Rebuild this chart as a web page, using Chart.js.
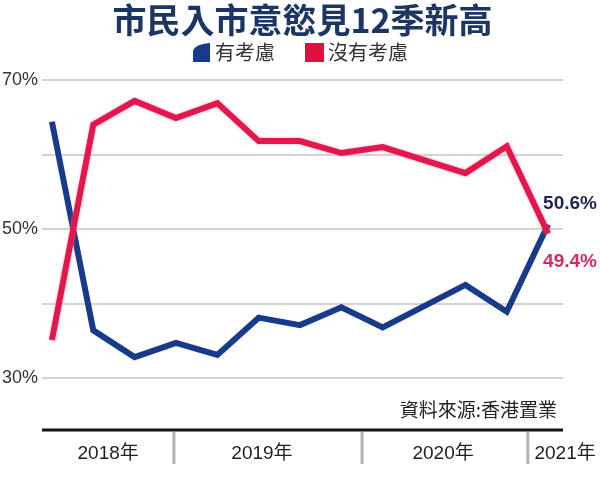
<!DOCTYPE html>
<html>
<head>
<meta charset="utf-8">
<script src="https://cdn.jsdelivr.net/npm/chart.js@4.4.1/dist/chart.umd.min.js"></script>
<style>
    html, body { margin: 0; padding: 0; background: #fff; }
    #wrap { width: 600px; height: 477px; }
</style>
</head>
<body>
<div id="wrap"><canvas id="chart"></canvas></div>
<script>
// 調查季度（其中一季沒有數據，線直接連過去）
const quarters = ['2018Q1', '2018Q2', '2018Q3', '2018Q4', '2019Q1', '2019Q2', '2019Q3',
                  '2019Q4', '2020Q1', '2020Q2', '2020Q3', '2020Q4', '2021Q1'];
const seriesNames = ['有考慮', '沒有考慮'];
const considering    = [64.4, 36.4, 32.8, 34.7, 33.1, 38.1, 37.1, 39.5, 36.8, null, 42.5, 38.9, 50.6];
const notConsidering = [35.1, 64.0, 67.2, 64.9, 66.9, 61.8, 61.8, 60.2, 61.0, null, 57.5, 61.1, 49.4];
const yTickLabels = [30, 50, 70];

// 年份帶（以季度序號表示）
const yearLabels = ['2018年', '2019年', '2020年', '2021年'];
const yearLabelAt = [1.36, 5.08, 9.46, 12.41];
const yearBreaks = [2.95, 7.5, 11.51];

const BLUE = '#173a8a';
const RED = '#e2184c';
const SANS = '"Liberation Sans", "Noto Sans CJK TC", sans-serif';
const CJK = '"Noto Sans CJK TC", "Noto Sans CJK SC", sans-serif';

// 圖例小圖示
function makeIcon(color, w, h, cut) {
    const c = document.createElement('canvas');
    c.width = w; c.height = h;
    const g = c.getContext('2d');
    g.fillStyle = color;
    g.beginPath();
    if (cut) {
        g.moveTo(0, h);
        g.lineTo(0, 8);
        g.quadraticCurveTo(3, 1, w, 0);
        g.lineTo(w, h);
    } else {
        g.rect(0, 0, w, h);
    }
    g.closePath();
    g.fill();
    return c;
}
const icons = [makeIcon(BLUE, 17, 19, true), makeIcon('#e0103f', 19, 19, false)];

function toPoints(arr) {
    return arr.map((v, i) => ({ x: i, y: v }));
}

// 紅線的淡粉紅光暈
const glowPlugin = {
    id: 'glow',
    beforeDatasetDraw(chart, args) {
        chart.ctx.save();
        if (args.index === 1) {
            chart.ctx.shadowColor = 'rgba(255, 130, 165, 0.7)';
            chart.ctx.shadowBlur = 3;
        }
    },
    afterDatasetDraw(chart) {
        chart.ctx.restore();
    }
};

// 終點數值、資料來源、年份帶
const decorPlugin = {
    id: 'decor',
    afterDraw(chart) {
        const { ctx, chartArea: a, scales: { x } } = chart;
        ctx.save();

        // 終點數值
        ctx.font = 'bold 19px ' + SANS;
        ctx.textAlign = 'left';
        ctx.textBaseline = 'middle';
        [considering, notConsidering].forEach((arr, i) => {
            const meta = chart.getDatasetMeta(i);
            const pt = meta.data[arr.length - 1];
            ctx.fillStyle = i === 0 ? '#1c2656' : '#d42a66';
            const dy = i === 0 ? -21 : 28;
            ctx.fillText(arr[arr.length - 1].toFixed(1) + '%', pt.x - 5, pt.y + dy);
        });

        // 資料來源
        ctx.font = '19px ' + CJK;
        ctx.fillStyle = '#222';
        ctx.textAlign = 'right';
        ctx.fillText('資料來源:香港置業', a.right - 6, a.bottom + 32);

        // 年份帶
        ctx.strokeStyle = '#111';
        ctx.lineWidth = 3;
        ctx.beginPath();
        ctx.moveTo(a.left, a.bottom + 52);
        ctx.lineTo(a.right, a.bottom + 52);
        ctx.stroke();

        ctx.strokeStyle = '#b5b5b5';
        yearBreaks.forEach(b => {
            const px = x.getPixelForValue(b);
            ctx.beginPath();
            ctx.moveTo(px, a.bottom + 54);
            ctx.lineTo(px, a.bottom + 86);
            ctx.stroke();
        });

        ctx.font = '19px ' + SANS;
        ctx.fillStyle = '#222';
        ctx.textAlign = 'center';
        yearLabels.forEach((lbl, i) => {
            ctx.fillText(lbl, x.getPixelForValue(yearLabelAt[i]), a.bottom + 76);
        });

        ctx.restore();
    }
};

const ctx = document.getElementById('chart').getContext('2d');
const chart = new Chart(ctx, {
    type: 'line',
    data: {
        labels: quarters,
        datasets: [
            {
                label: seriesNames[0],
                data: toPoints(considering),
                borderColor: BLUE,
                backgroundColor: BLUE,
                borderWidth: 6,
                order: 1
            },
            {
                label: seriesNames[1],
                data: toPoints(notConsidering),
                borderColor: RED,
                backgroundColor: RED,
                borderWidth: 6,
                order: 0
            }
        ]
    },
    options: {
        responsive: true,
        maintainAspectRatio: false,
        animation: false,
        events: [],
        spanGaps: true,
        elements: {
            line: { tension: 0, borderJoinStyle: 'miter', borderCapStyle: 'butt' },
            point: { radius: 0 }
        },
        layout: {
            padding: { left: 0, right: 37, top: 0, bottom: 99 }
        },
        plugins: {
            title: {
                display: true,
                fullSize: false,
                text: '市民入市意慾見12季新高',
                color: '#1b3663',
                font: { family: CJK, size: 34, weight: 'bold' },
                padding: { top: 0, bottom: -33.3 }
            },
            legend: {
                display: true,
                fullSize: false,
                labels: {
                    usePointStyle: true,
                    boxWidth: 8,
                    padding: 35,
                    color: '#333',
                    font: { family: CJK, size: 20 },
                    generateLabels(chart) {
                        const items = Chart.defaults.plugins.legend.labels.generateLabels(chart);
                        items.sort((p, q) => p.datasetIndex - q.datasetIndex);
                        items.forEach(it => { it.pointStyle = icons[it.datasetIndex]; });
                        return items;
                    }
                }
            },
            tooltip: { enabled: false }
        },
        scales: {
            x: {
                type: 'linear',
                position: 'top',
                min: -0.24,
                max: 12.36,
                grid: { display: false },
                border: { display: false },
                ticks: { display: false },
                afterFit(scale) { scale.height = 7.5; }
            },
            y: {
                min: 30,
                max: 70,
                grid: { color: '#d4d4d4', lineWidth: 2, drawTicks: false },
                border: { display: false },
                ticks: {
                    stepSize: 10,
                    padding: 4,
                    color: '#333',
                    font: { family: SANS, size: 18 },
                    callback: v => yTickLabels.includes(v) ? v + '%' : ''
                },
                afterFit(scale) { scale.width = 42; }
            }
        }
    },
    plugins: [glowPlugin, decorPlugin]
});
</script>
</body>
</html>
